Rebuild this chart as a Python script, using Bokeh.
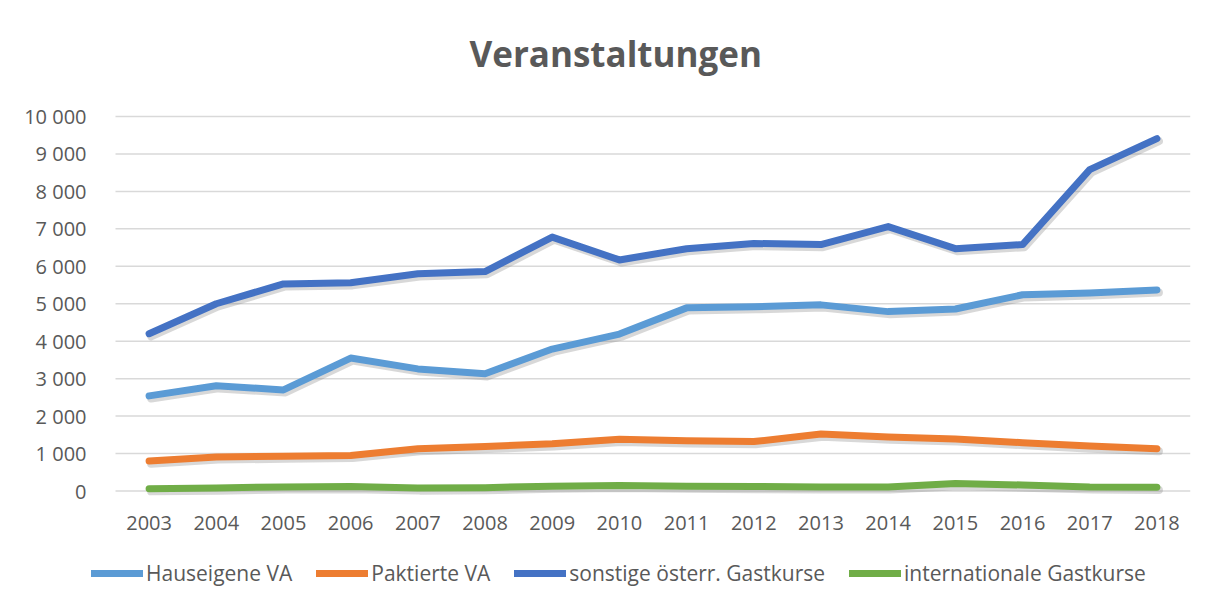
from bokeh.plotting import figure
from bokeh.models import Range1d, FixedTicker, Legend, LegendItem, Title
from bokeh.embed import file_html
from bokeh.resources import INLINE

years = [2003, 2004, 2005, 2006, 2007, 2008, 2009, 2010, 2011, 2012, 2013, 2014, 2015, 2016, 2017, 2018]
hauseigene = [2540, 2810, 2700, 3550, 3260, 3130, 3790, 4190, 4890, 4920, 4970, 4790, 4860, 5240, 5290, 5370]
paktierte = [800, 910, 930, 950, 1130, 1190, 1260, 1380, 1340, 1320, 1520, 1440, 1390, 1290, 1200, 1130]
sonstige = [4200, 5000, 5530, 5560, 5800, 5860, 6780, 6170, 6470, 6610, 6580, 7060, 6470, 6580, 8580, 9410]
international = [60, 80, 110, 120, 80, 90, 130, 150, 130, 120, 110, 110, 200, 160, 110, 100]

series_names = ["Hauseigene VA", "Paktierte VA", "sonstige österr. Gastkurse", "internationale Gastkurse"]
series_values = [hauseigene, paktierte, sonstige, international]
series_colors = ["#5B9BD5", "#ED7D31", "#4472C4", "#70AD47"]

y_ticks = [0, 1000, 2000, 3000, 4000, 5000, 6000, 7000, 8000, 9000, 10000]
y_tick_labels = ["0", "1 000", "2 000", "3 000", "4 000", "5 000", "6 000", "7 000", "8 000", "9 000", "10 000"]

FONT = "Open Sans"
GRAY = "#595959"
GRID = "#d9d9d9"

W, H = 1198, 591
# layout (pixels): plot band left/right, top gridline / zero line, frame top
band_l, band_r = 115, 1190
top_px, zero_px = 116, 490.5
frame_top = 92

x_lo, x_hi = years[0] - 0.5, years[-1] + 0.5
ppx = (band_r - band_l) / (x_hi - x_lo)
x_start = x_lo - band_l / ppx
y_max = y_ticks[-1]
ppy = (zero_px - top_px) / y_max
y_start = -(H - zero_px) / ppy
y_end = y_max + (top_px - frame_top) / ppy

p = figure(width=W, height=H, output_backend="svg", toolbar_location=None,
           x_range=Range1d(x_start, x_hi), y_range=Range1d(y_start, y_end),
           min_border_left=0, min_border_right=W - band_r, min_border_top=frame_top, min_border_bottom=0)
p.background_fill_color = "white"
p.border_fill_color = "white"
p.outline_line_color = None

title = Title(text="Veranstaltungen", align="left", offset=469, standoff=32,
              text_font=FONT, text_font_size="35px", text_font_style="bold", text_color=GRAY)
p.add_layout(title, "above")

# axes
p.xaxis.fixed_location = 0
p.xaxis.bounds = (x_lo, x_hi)
p.xaxis.ticker = FixedTicker(ticks=years)
p.xaxis.major_label_overrides = {y: str(y) for y in years}
p.xaxis.axis_line_color = None
p.xaxis.major_tick_line_color = None
p.xaxis.minor_tick_line_color = None
p.xaxis.major_label_standoff = 19
p.xaxis.major_label_text_font = FONT
p.xaxis.major_label_text_font_size = "20px"
p.xaxis.major_label_text_color = GRAY

p.yaxis.fixed_location = x_lo
p.yaxis.bounds = (0, y_max)
p.yaxis.ticker = FixedTicker(ticks=y_ticks)
p.yaxis.major_label_overrides = {t: l for t, l in zip(y_ticks, y_tick_labels)}
p.yaxis.axis_line_color = None
p.yaxis.major_tick_line_color = None
p.yaxis.minor_tick_line_color = None
p.yaxis.major_label_standoff = 23
p.yaxis.major_label_text_font = FONT
p.yaxis.major_label_text_font_size = "20px"
p.yaxis.major_label_text_color = GRAY

p.xgrid.grid_line_color = None
p.ygrid.grid_line_color = None

# horizontal gridlines across the plot band only
n = len(y_ticks)
p.segment(x0=[x_lo] * n, y0=y_ticks, x1=[x_hi] * n, y1=y_ticks, line_color=GRID, line_width=1.5)

# shadows
dx = 0.03
dy = 70
for vals in series_values:
    p.line([x + dx for x in years], [v - dy for v in vals], line_color="#7f7f7f", line_alpha=0.3,
           line_width=8, line_cap="round", line_join="round")

items = []
for name, vals, col in zip(series_names, series_values, series_colors):
    r = p.line(years, vals, line_color=col, line_width=7, line_cap="round", line_join="round")
    items.append(LegendItem(label=name, renderers=[r]))

legend = Legend(items=items, orientation="horizontal", location=(91, 4),
                glyph_width=52, glyph_height=24, label_standoff=3, spacing=24,
                padding=0, margin=0, border_line_color=None, background_fill_alpha=0,
                label_text_font=FONT, label_text_font_size="21px", label_text_color=GRAY)
p.add_layout(legend, "center")

open("out.html", "w").write(file_html(p, INLINE))
